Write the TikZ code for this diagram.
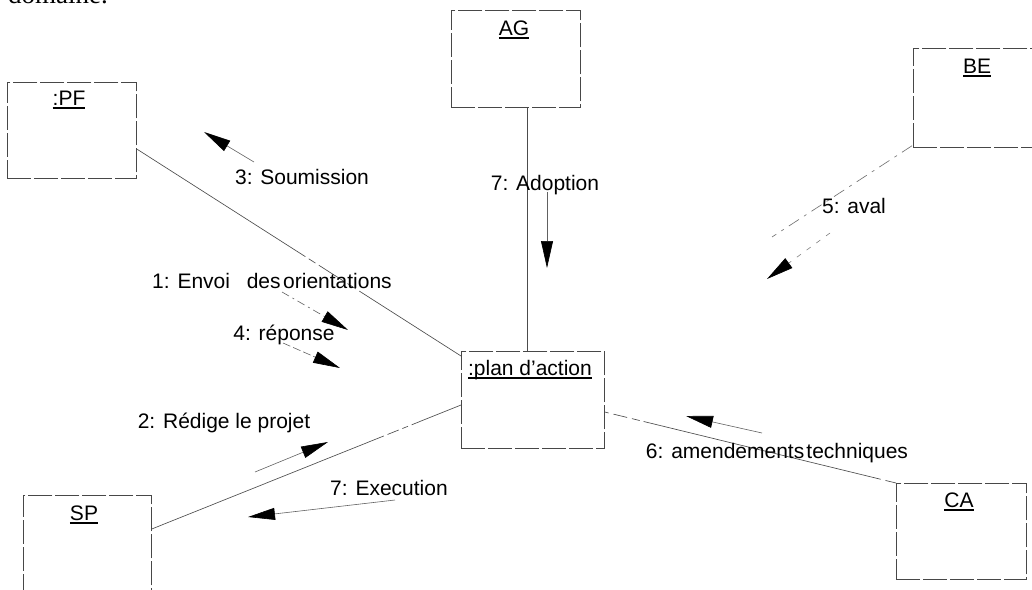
\documentclass[tikz,border=0pt]{standalone}
\usepackage{fontspec}
\setmainfont{Liberation Sans}
\newfontfamily\runningserif{Liberation Serif}
\usetikzlibrary{arrows.meta}

% object name with a thick underline just under the baseline
\newcommand\objname[1]{\setbox0=\hbox{#1}\rlap{\rule[-3.6pt]{\wd0}{1.6pt}}\box0}

\tikzset{
  objbox/.style={draw=black!72, line width=0.75pt, dash pattern=on 24pt off 3pt,
    inner sep=0pt, anchor=north west},
  objlabel/.style={anchor=base, inner sep=0pt, font=\fontsize{21}{25}\selectfont},
  msglabel/.style={anchor=base, inner sep=0pt, font=\fontsize{21}{25}\selectfont},
  link/.style={draw=black!70, line width=0.65pt},
  msg/.style={draw=black!62, line width=0.6pt,
    -{Triangle[length=27pt,width=12pt,color=black]}},
}

\begin{document}
\begin{tikzpicture}[x=1pt,y=-1pt]
\useasboundingbox (0,0) rectangle (1032,589);

% end of the paragraph above the figure
\node[anchor=base west, inner sep=0pt, font=\runningserif\fontsize{27}{30}\selectfont] (para) at (8,4) {domaine.};

% objects
\node[objbox, minimum width=129pt, minimum height=96pt] (pf)   at (7,82)   {};
\node[objbox, minimum width=129pt, minimum height=97pt] (ag)   at (451,10) {};
\node[objbox, minimum width=129pt, minimum height=99pt] (be)   at (913,48) {};
\node[objbox, minimum width=143pt, minimum height=97pt] (plan) at (461,351) {};
\node[objbox, minimum width=128pt, minimum height=97pt] (sp)   at (23,495) {};
\node[objbox, minimum width=130pt, minimum height=96pt] (ca)   at (896,483) {};

\node[objlabel] (pflab)   at (69,105)  {\objname{:PF}};
\node[objlabel] (aglab)   at (514,35)  {\objname{AG}};
\node[objlabel] (belab)   at (977,73)  {\objname{BE}};
\node[objlabel] (planlab) at (530,375) {\objname{:plan d'action}};
\node[objlabel] (splab)   at (84,520)  {\objname{SP}};
\node[objlabel] (calab)   at (959,507) {\objname{CA}};

% links between objects
\draw[link, dash pattern=on 200pt off 4pt on 8pt off 4pt on 30pt off 4pt on 10pt off 4pt]
  ([yshift=-67pt]pf.north east) -- ([yshift=-5pt]plan.north west);
\draw[link] ([xshift=11.5pt]ag.south) -- ([xshift=11.5pt]ag.south |- plan.north);
\coordinate (beend) at (772,237);
\draw[link, draw=black!55, dash pattern=on 12pt off 6pt on 3pt off 6pt]
  ([xshift=-1pt,yshift=2pt]be.south west) -- (beend);
\draw[link, dash pattern=on 250pt off 4pt on 12pt off 4pt on 6pt off 4pt]
  ([yshift=-34pt]sp.north east) -- ([yshift=-54pt]plan.north west);
\draw[link, dash pattern=on 4pt off 5pt on 14pt off 5pt on 8pt off 4pt on 240pt off 0pt]
  ([yshift=-61pt]plan.north east) -- (ca.north west);

% messages
\coordinate (m3s) at (254,162); \coordinate (m3e) at (204,132);
\coordinate (m1s) at (282,292); \coordinate (m1e) at (348,330);
\coordinate (m4s) at (283,343); \coordinate (m4e) at (340,368);
\coordinate (m2s) at (255,472); \coordinate (m2e) at (328,442);
\coordinate (m7s) at (395,500); \coordinate (m7e) at (248,517);
\coordinate (m6s) at (762,433); \coordinate (m6e) at (686,416);
\coordinate (m5s) at (830,233); \coordinate (m5e) at (767,279);
\coordinate (maS) at (547,192); \coordinate (maE) at (547,268);

\draw[msg] (m3s) -- (m3e);
\draw[msg, dash pattern=on 8pt off 4pt on 2pt off 4pt] (m1s) -- (m1e);
\draw[msg, dash pattern=on 8pt off 3pt] (m4s) -- (m4e);
\draw[msg] (m2s) -- (m2e);
\draw[msg] (m7s) -- (m7e);
\draw[msg] (m6s) -- (m6e);
\draw[msg, draw=black!50, dash pattern=on 5pt off 7pt] (m5s) -- (m5e);
\draw[msg] (maS) -- (maE);

\node[msglabel] (l3) at (302,184) {3: Soumission};
\node[msglabel] (l1) at (272,288) {1: Envoi\hspace{0.8em}des\hspace{0.12em}orientations};
\node[msglabel] (l4) at (284,340) {4: réponse};
\node[msglabel] (l2) at (224,428) {2: Rédige le projet};
\node[msglabel] (l7e) at (389,495) {7: Execution};
\node[msglabel] (l6) at (777,458) {6: amendements\hspace{0.1em}techniques};
\node[msglabel] (l5) at (854,213) {5: aval};
\node[msglabel] (l7a) at (545,190) {7: Adoption};
\end{tikzpicture}
\end{document}
